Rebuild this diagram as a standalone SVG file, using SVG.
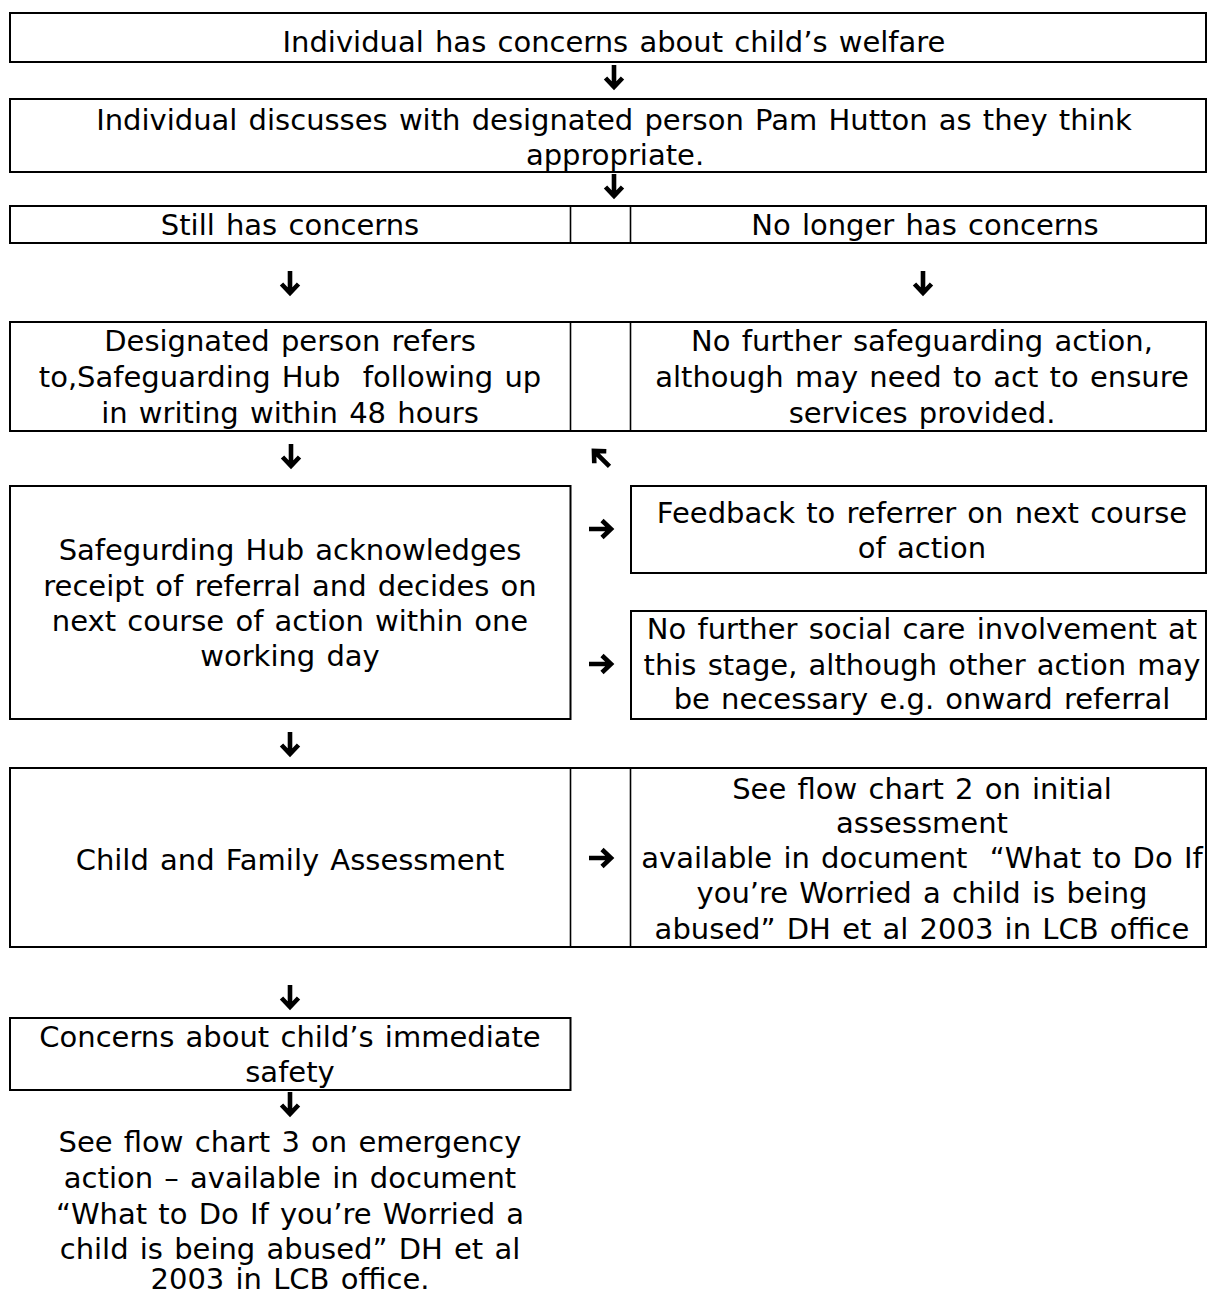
<svg xmlns="http://www.w3.org/2000/svg" width="1208" height="1295" viewBox="0 0 1208 1295">
<style>
.box{fill:#fff;stroke:#000;stroke-width:2}
.dv{stroke:#000;stroke-width:1.6}
text{font-family:"DejaVu Sans",Verdana,sans-serif;font-size:29px;word-spacing:2px;fill:#000;text-anchor:middle}
</style>
<defs>
<g id="arr"><path d="M0,-12 V8 M-8.5,1 L0,10 L8.5,1" fill="none" stroke="#000" stroke-width="4.6" stroke-miterlimit="10"/></g>
</defs>
<rect width="1208" height="1295" fill="#fff"/>

<g id="n1">
<rect class="box" x="10" y="13" width="1196" height="49"/>
<text x="614" y="52">Individual has concerns about child’s welfare</text>
</g>

<g id="n2">
<rect class="box" x="10" y="99" width="1196" height="73"/>
<text x="614" y="130">Individual discusses with designated person Pam Hutton as they think</text>
<text x="615" y="165">appropriate.</text>
</g>

<g id="n3">
<rect class="box" x="10" y="206" width="1196" height="37"/>
<line class="dv" x1="570.5" y1="206" x2="570.5" y2="243"/>
<line class="dv" x1="630.5" y1="206" x2="630.5" y2="243"/>
<text x="290" y="235">Still has concerns</text>
<text x="925" y="235">No longer has concerns</text>
</g>

<g id="n4">
<rect class="box" x="10" y="322" width="1196" height="109"/>
<line class="dv" x1="570.5" y1="322" x2="570.5" y2="431"/>
<line class="dv" x1="630.5" y1="322" x2="630.5" y2="431"/>
<text x="290" y="351">Designated person refers</text>
<text x="290" y="387" xml:space="preserve">to,Safeguarding Hub  following up</text>
<text x="290" y="423">in writing within 48 hours</text>
<text x="922" y="351">No further safeguarding action,</text>
<text x="922" y="387">although may need to act to ensure</text>
<text x="922" y="423">services provided.</text>
</g>

<g id="n5">
<rect class="box" x="10" y="486" width="560.5" height="233"/>
<text x="290" y="560">Safegurding Hub acknowledges</text>
<text x="290" y="596">receipt of referral and decides on</text>
<text x="290" y="631">next course of action within one</text>
<text x="290" y="666">working day</text>
</g>

<g id="n6">
<rect class="box" x="631" y="486" width="575" height="87"/>
<text x="922" y="523">Feedback to referrer on next course</text>
<text x="922" y="558">of action</text>
</g>

<g id="n7">
<rect class="box" x="631" y="611" width="575" height="108"/>
<text x="922" y="639">No further social care involvement at</text>
<text x="922" y="675">this stage, although other action may</text>
<text x="922" y="709">be necessary e.g. onward referral</text>
</g>

<g id="n8">
<rect class="box" x="10" y="768" width="1196" height="179"/>
<line class="dv" x1="570.5" y1="768" x2="570.5" y2="947"/>
<line class="dv" x1="630.5" y1="768" x2="630.5" y2="947"/>
<text x="290" y="870">Child and Family Assessment</text>
<text x="922" y="799">See flow chart 2 on initial</text>
<text x="922" y="833">assessment</text>
<text x="922" y="868" xml:space="preserve">available in document  “What to Do If</text>
<text x="922" y="903">you’re Worried a child is being</text>
<text x="922" y="939">abused” DH et al 2003 in LCB office</text>
</g>

<g id="n9">
<rect class="box" x="10" y="1018" width="560.5" height="72"/>
<text x="290" y="1047">Concerns about child’s immediate</text>
<text x="290" y="1082">safety</text>
</g>

<g id="n10">
<text x="290" y="1152">See flow chart 3 on emergency</text>
<text x="290" y="1188">action – available in document</text>
<text x="290" y="1224">“What to Do If you’re Worried a</text>
<text x="290" y="1259">child is being abused” DH et al</text>
<text x="290" y="1289">2003 in LCB office.</text>
</g>

<g id="connectors">
<use href="#arr" transform="translate(614,77)"/>
<use href="#arr" transform="translate(614,186)"/>
<use href="#arr" transform="translate(290,283)"/>
<use href="#arr" transform="translate(923,283)"/>
<use href="#arr" transform="translate(291,456)"/>
<use href="#arr" transform="translate(601,458) rotate(135)"/>
<use href="#arr" transform="translate(601,529) rotate(-90)"/>
<use href="#arr" transform="translate(601,664) rotate(-90)"/>
<use href="#arr" transform="translate(290,744)"/>
<use href="#arr" transform="translate(601,858) rotate(-90)"/>
<use href="#arr" transform="translate(290,997)"/>
<use href="#arr" transform="translate(290,1104)"/>
</g>
</svg>
